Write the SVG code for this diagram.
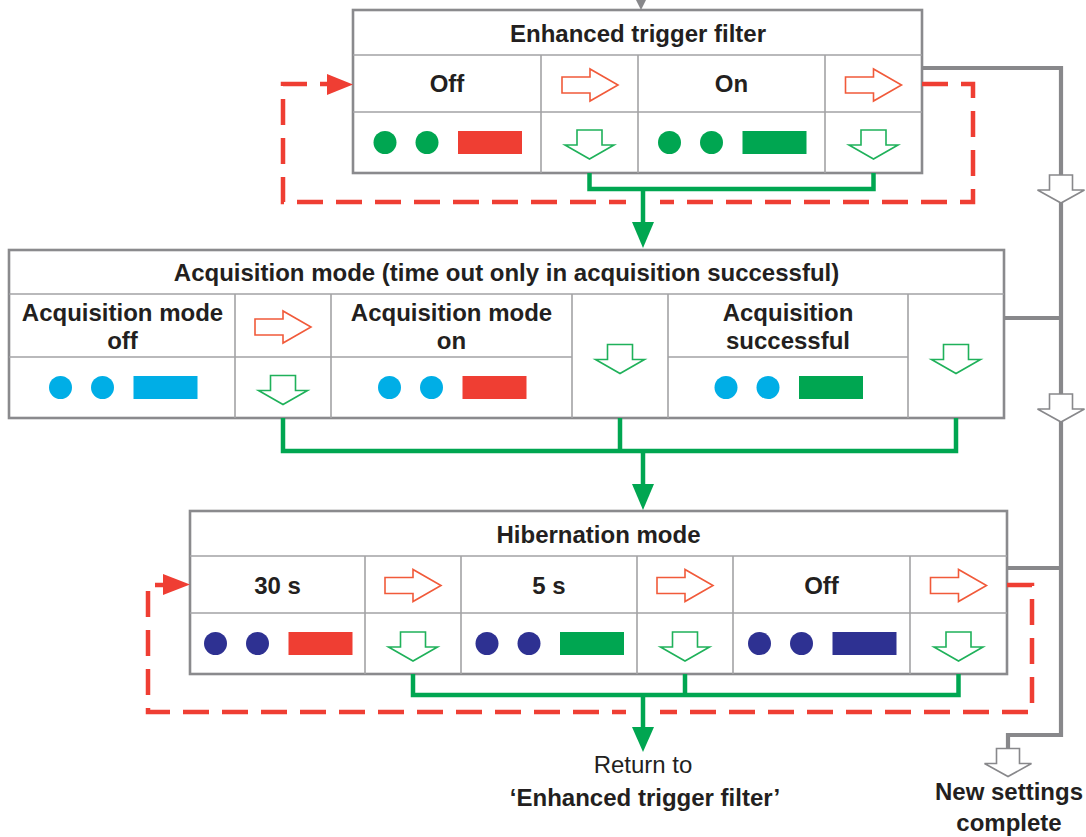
<svg xmlns="http://www.w3.org/2000/svg" xmlns:xlink="http://www.w3.org/1999/xlink" width="1086" height="837" viewBox="0 0 1086 837">
  <style>
    .frame { fill: #ffffff; stroke: #8a8a8d; stroke-width: 2.6; }
    .grid { stroke: #a3a3a5; stroke-width: 1.6; fill: none; }
    .t { font-family: "Liberation Sans", Arial, sans-serif; font-weight: bold; font-size: 24px; fill: #231f20; text-anchor: middle; }
    .r { font-family: "Liberation Sans", Arial, sans-serif; font-size: 24px; fill: #231f20; text-anchor: middle; }
    .dash { fill: none; stroke: #ef3e33; stroke-width: 4.5; stroke-dasharray: 26 13; }
    .flow { fill: none; stroke: #00a651; stroke-width: 4.5; }
    .knock { fill: none; stroke: #ffffff; stroke-width: 34; }
    .gline { fill: none; stroke: #88888b; stroke-width: 4.2; }
    .g { fill: #00a651; }
    .cy { fill: #00aee6; }
    .nv { fill: #2e3192; }
    .rd { fill: #ef3e33; }
  </style>
  <defs>
    <path id="rarrow" d="M-28,-8 H0 V-16 L28,0 L0,16 V8 H-28 Z" fill="#ffffff" stroke="#f15a3a" stroke-width="1.6"/>
    <path id="darrow" d="M-12.5,-14.5 H12.5 V0.5 H24.5 L0,14.5 L-24.5,0.5 H-12.5 Z" fill="#ffffff" stroke="#1fb15a" stroke-width="1.6"/>
    <path id="garrow" d="M-11.5,-14 H11.5 V1 H23.5 L0,14 L-23.5,1 H-11.5 Z" fill="#ffffff" stroke="#88888b" stroke-width="1.6"/>
  </defs>

  <!-- Enhanced trigger filter -->
  <g id="node-trigger">
    <rect class="frame" x="353" y="10" width="569" height="163"/>
    <path class="grid" d="M353,55 H922 M353,112 H922 M541,55 V173 M638,55 V173 M825,55 V173"/>
    <text class="t" x="638" y="42">Enhanced trigger filter</text>
    <text class="t" x="447" y="92">Off</text>
    <text class="t" x="731.5" y="92">On</text>
    <use xlink:href="#rarrow" x="590" y="85"/>
    <use xlink:href="#rarrow" x="873.5" y="85"/>
    <use xlink:href="#darrow" x="589.5" y="144.5"/>
    <use xlink:href="#darrow" x="873.5" y="144.5"/>
    <circle class="g" cx="385" cy="142.5" r="11.5"/>
    <circle class="g" cx="427" cy="142.5" r="11.5"/>
    <rect class="rd" x="458" y="131" width="64" height="23"/>
    <circle class="g" cx="669.5" cy="142.5" r="11.5"/>
    <circle class="g" cx="711.5" cy="142.5" r="11.5"/>
    <rect class="g" x="742.5" y="131" width="64" height="23"/>
  </g>

  <!-- Acquisition mode -->
  <g id="node-acquisition">
    <rect class="frame" x="9" y="250" width="995" height="168"/>
    <path class="grid" d="M9,294 H1004 M9,357 H331 M331,357 H572 M668,357 H908 M235,294 V418 M331,294 V418 M572,294 V418 M668,294 V418 M908,294 V418"/>
    <text class="t" x="506.5" y="281">Acquisition mode (time out only in acquisition successful)</text>
    <text class="t" x="122.5" y="321">Acquisition mode</text>
    <text class="t" x="122.5" y="349">off</text>
    <text class="t" x="451.5" y="321">Acquisition mode</text>
    <text class="t" x="451.5" y="349">on</text>
    <text class="t" x="788" y="321">Acquisition</text>
    <text class="t" x="788" y="349">successful</text>
    <use xlink:href="#rarrow" x="283" y="327"/>
    <use xlink:href="#darrow" x="283" y="390"/>
    <use xlink:href="#darrow" x="620" y="359"/>
    <use xlink:href="#darrow" x="956" y="359"/>
    <circle class="cy" cx="60.5" cy="387.5" r="11.5"/>
    <circle class="cy" cx="102.5" cy="387.5" r="11.5"/>
    <rect class="cy" x="133.5" y="376" width="64" height="23"/>
    <circle class="cy" cx="389.5" cy="387.5" r="11.5"/>
    <circle class="cy" cx="431.5" cy="387.5" r="11.5"/>
    <rect class="rd" x="462.5" y="376" width="64" height="23"/>
    <circle class="cy" cx="726" cy="387.5" r="11.5"/>
    <circle class="cy" cx="768" cy="387.5" r="11.5"/>
    <rect class="g" x="799" y="376" width="64" height="23"/>
  </g>

  <!-- Hibernation mode -->
  <g id="node-hibernation">
    <rect class="frame" x="190" y="511" width="817" height="163"/>
    <path class="grid" d="M190,556 H1007 M190,613 H1007 M365,556 V674 M461,556 V674 M637,556 V674 M733,556 V674 M910,556 V674"/>
    <text class="t" x="598.5" y="543">Hibernation mode</text>
    <text class="t" x="277.5" y="594">30 s</text>
    <text class="t" x="549" y="594">5 s</text>
    <text class="t" x="821.5" y="594">Off</text>
    <use xlink:href="#rarrow" x="413" y="585.5"/>
    <use xlink:href="#rarrow" x="685" y="585.5"/>
    <use xlink:href="#rarrow" x="958.5" y="585.5"/>
    <use xlink:href="#darrow" x="413" y="646.5"/>
    <use xlink:href="#darrow" x="685" y="646.5"/>
    <use xlink:href="#darrow" x="958.5" y="646.5"/>
    <circle class="nv" cx="215.5" cy="643.5" r="11.5"/>
    <circle class="nv" cx="257.5" cy="643.5" r="11.5"/>
    <rect class="rd" x="288.5" y="632" width="64" height="23"/>
    <circle class="nv" cx="487" cy="643.5" r="11.5"/>
    <circle class="nv" cx="529" cy="643.5" r="11.5"/>
    <rect class="g" x="560" y="632" width="64" height="23"/>
    <circle class="nv" cx="759.5" cy="643.5" r="11.5"/>
    <circle class="nv" cx="801.5" cy="643.5" r="11.5"/>
    <rect class="nv" x="832.5" y="632" width="64" height="23"/>
  </g>

  <!-- Connectors -->
  <g id="connectors">
    <!-- incoming line at the top -->
    <path class="gline" d="M641,-4 V2"/>
    <polygon points="636,0 646,0 641,10" fill="#88888b"/>

    <!-- red dashed loops back to the first option -->
    <path class="dash" d="M922,84 H973 V202 H283 V84 H327"/>
    <polygon class="rd" points="327,74 353,84.5 327,95"/>
    <path class="dash" d="M1007,585 H1032 V712 H148 V585 H163"/>
    <polygon class="rd" points="163,574 190,584.5 163,595"/>

    <!-- white breaks where green flows cross the dashed loops -->
    <path class="knock" d="M643,196 V208"/>
    <path class="knock" d="M643,706 V718"/>

    <!-- green flow between the groups -->
    <path class="flow" d="M589.5,173 V189 H873.5 V173"/>
    <path class="flow" d="M643,189 V224"/>
    <polygon class="g" points="632,222 654,222 643,248"/>

    <path class="flow" d="M283,418 V451 H956 V418"/>
    <path class="flow" d="M620,418 V451"/>
    <path class="flow" d="M643,451 V486"/>
    <polygon class="g" points="632,484 654,484 643,510"/>

    <path class="flow" d="M413,674 V695 H958.5 V674"/>
    <path class="flow" d="M685,674 V695"/>
    <path class="flow" d="M643,695 V729"/>
    <polygon class="g" points="632,727 654,727 643,752"/>

    <!-- gray path to completion -->
    <path class="gline" d="M922,68 H1061 V735 H1008 V749"/>
    <path class="gline" d="M1004,318 H1061"/>
    <path class="gline" d="M1007,568 H1061"/>
    <use xlink:href="#garrow" x="1061" y="189"/>
    <use xlink:href="#garrow" x="1061" y="408"/>
    <use xlink:href="#garrow" x="1008" y="762.5"/>
  </g>

  <g id="end-return">
    <text class="r" x="643" y="773">Return to</text>
    <text class="t" x="645" y="806">‘Enhanced trigger filter’</text>
  </g>
  <g id="end-complete">
    <text class="t" x="1009" y="800">New settings</text>
    <text class="t" x="1009" y="831">complete</text>
  </g>
</svg>
